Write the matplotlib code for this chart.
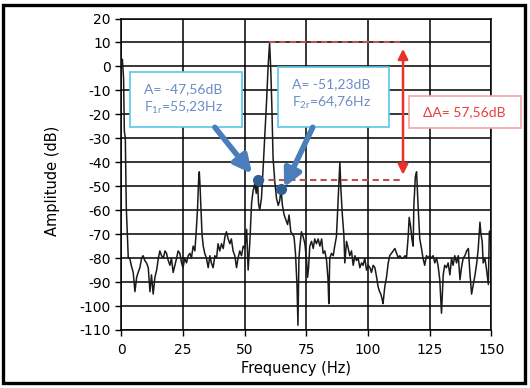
import numpy as np
import matplotlib
matplotlib.use("Agg")
import matplotlib.pyplot as plt
from matplotlib.patches import Rectangle

plt.rcParams['font.family'] = ['DejaVu Sans']
plt.rcParams['axes.unicode_minus'] = False
plt.rcParams['mathtext.fontset'] = 'custom'
plt.rcParams['mathtext.rm'] = 'Lato'

# spectrum (Hz, dB)
freq = [0.0, 0.4, 0.9, 1.2, 1.6, 2.0, 2.4, 2.8, 3.4, 4.0, 4.8, 5.5, 6.2, 6.8, 7.5, 8.2, 8.8, 9.5,
        10.2, 10.9, 11.6, 12.2, 12.9, 13.6, 14.3, 15.0, 15.6, 16.3, 17.0, 17.7, 18.3, 19.0, 19.7,
        20.3, 21.0, 21.7, 22.4, 23.0, 23.7, 24.4, 25.0, 25.7, 26.4, 27.1, 27.8, 28.4, 29.1, 29.8,
        30.4, 30.9, 31.3, 31.6, 31.9, 32.3, 32.7, 33.2, 33.8, 34.5, 35.2, 35.9, 36.5, 37.2, 37.9,
        38.6, 39.2, 39.9, 40.6, 41.3, 42.0, 42.6, 43.3, 44.0, 44.6, 45.3, 46.0, 46.7, 47.3, 48.0,
        48.7, 49.4, 50.1, 50.8, 51.4, 52.1, 52.8, 53.4, 54.1, 54.7, 55.23, 55.6, 56.1, 56.8, 57.5,
        58.2, 58.9, 59.5, 60.1, 60.6, 61.0, 61.5, 62.2, 62.9, 63.6, 64.2, 64.76, 65.3, 66.0, 66.7,
        67.4, 68.0, 68.7, 69.3, 70.0, 70.6, 71.2, 71.6, 72.0, 72.4, 73.0, 73.7, 74.4, 75.1, 75.5,
        75.9, 76.4, 77.1, 77.8, 78.4, 79.1, 79.8, 80.5, 81.2, 81.8, 82.5, 83.2, 83.8, 84.1, 84.5,
        85.2, 85.9, 86.5, 87.2, 87.6, 88.1, 88.6, 89.0, 89.6, 90.2, 90.6, 91.3, 92.0, 92.6, 93.3,
        94.0, 94.7, 95.3, 96.0, 96.7, 97.4, 98.0, 98.7, 99.4, 100.1, 100.8, 101.4, 102.1, 102.8,
        103.5, 104.1, 104.7, 105.2, 105.7, 106.1, 106.5, 106.8, 107.5, 108.2, 108.8, 109.5, 110.2,
        110.9, 111.6, 112.3, 112.9, 113.6, 114.3, 115.0, 115.6, 116.3, 116.7, 117.3, 117.8, 118.3,
        118.6, 119.2, 119.7, 120.3, 121.0, 121.7, 122.3, 123.0, 123.7, 124.4, 125.0, 125.7, 126.4,
        127.1, 127.8, 128.4, 129.1, 129.8, 130.5, 131.1, 131.8, 132.5, 133.2, 133.9, 134.5, 135.2,
        135.9, 136.6, 137.3, 137.9, 138.6, 139.3, 140.0, 140.7, 141.3, 142.0, 142.7, 143.4, 144.1,
        144.7, 145.4, 145.8, 146.3, 146.7, 147.4, 148.1, 148.8, 149.2, 150.0]
amp = [0, 3, -5, -27, -30, -59, -69, -80, -80, -83, -86, -94, -88, -86, -84, -80, -79, -81,
       -82, -84, -94, -87, -95, -88, -85, -80, -77, -79, -80, -77, -78, -81, -83,
       -80, -86, -83, -80, -77, -78, -82, -84, -80, -82, -79, -78, -80, -75, -77,
       -68, -59, -48, -44, -50, -60, -70, -75, -78, -80, -84, -79, -82, -84, -79,
       -80, -74, -77, -74, -76, -71, -69, -72, -74, -72, -77, -79, -84, -80, -77,
       -79, -75, -76, -68, -85, -73, -57, -52, -49, -53, -47.56, -57, -60, -55, -42,
       -28, -14, 0, 10, -2, -16, -38, -48, -55, -58, -56, -51.23, -58, -62, -64,
       -66, -62, -69, -70, -71, -78, -91, -108, -80, -75, -69, -71, -74, -81, -88,
       -84, -75, -73, -76, -72, -74, -72, -75, -72, -78, -77, -81, -89, -99, -80,
       -78, -79, -75, -71, -62, -50, -40, -51, -62, -70, -82, -73, -76, -79, -77,
       -83, -79, -81, -80, -84, -82, -83, -80, -85, -83, -84, -86, -83, -84,
       -88, -92, -94, -95, -97, -99, -95, -92, -88, -82, -79, -78, -77,
       -76, -78, -80, -79, -80, -80, -79, -80, -71, -63, -67, -72, -75,
       -58, -46, -44, -58, -72, -76, -80, -83, -79, -80, -79, -80, -79,
       -82, -80, -83, -89, -103, -87, -83, -84, -82, -87, -80, -83, -79,
       -82, -79, -89, -84, -80, -79, -77, -76, -86, -95, -91, -87, -82,
       -76, -65, -70, -73, -82, -80, -85, -91, -69, -68]

x_ticks = [0, 25, 50, 75, 100, 125, 150]
y_ticks = list(range(-110, 21, 10))

f1, a1 = 55.23, -47.56
f2, a2 = 64.76, -51.23
peak = 10.0
txt1 = ["A= -47,56dB", r"F$_\mathrm{1r}$=55,23Hz"]
txt2 = ["A= -51,23dB", r"F$_\mathrm{2r}$=64,76Hz"]
txt3 = "ΔA= 57,56dB"

fig = plt.figure(figsize=(5.3, 3.88), dpi=100)
ax = fig.add_axes([0.229, 0.1495, 0.698, 0.8028])

ax.plot(freq, amp, color="#1a1a1a", lw=1.1, zorder=3)
ax.set_xlim(0, 150)
ax.set_ylim(-110, 20)
ax.set_xticks(x_ticks)
ax.set_yticks(y_ticks)
ax.grid(True, color="black", lw=1.1)
for s in ax.spines.values():
    s.set_color("black")
    s.set_linewidth(1.1)
ax.tick_params(labelsize=10, length=4.5, width=1, pad=3)
ax.tick_params(axis="x", pad=5)
ax.set_xlabel("Frequency (Hz)", fontsize=10.5)
ax.set_ylabel("Amplitude (dB)", fontsize=10.5)
ax.xaxis.set_label_coords(0.473, -0.10)
ax.yaxis.set_label_coords(-0.165, 0.48)

# red level lines and delta arrow
red_dash = "#c0504d"
ax.plot([60.0, 113.6], [peak, peak], ls="--", color=red_dash, lw=1.5, dashes=(3, 2), zorder=4)
ax.plot([f1, 113.6], [a1, a1], ls="--", color=red_dash, lw=1.5, dashes=(3, 2), zorder=4)
ax.annotate("", xy=(114.2, peak - 1.5), xytext=(114.2, a1 + 1.2),
            arrowprops=dict(arrowstyle="<|-|>", color="#e8332a", lw=1.8, mutation_scale=15),
            zorder=5)

# markers
ax.plot([f1, f2], [a1, a2], "o", color="#2f5f95", ms=7, zorder=6)

# callout boxes
cyan = "#5bc6e6"
blue_txt = "#6a8cc6"
ax.add_patch(Rectangle((3.4, -25.4), 45.4, 23.1, fc="white", ec=cyan, lw=1.2, zorder=7, clip_on=False))
ax.add_patch(Rectangle((63.4, -25.4), 45.0, 25.2, fc="white", ec=cyan, lw=1.2, zorder=7, clip_on=False))
ax.add_patch(Rectangle((116.5, -25.9), 45.4, 13.5, fc="white", ec="#f2a5a5", lw=1.2, zorder=7, clip_on=False))

ax.text(9.1, -9.5, txt1[0], fontsize=10, family="Lato", color=blue_txt, va="center", zorder=8)
ax.text(9.1, -17.4, txt1[1], fontsize=10, family="Lato", color=blue_txt, va="center", zorder=8)
ax.text(69.1, -7.3, txt2[0], fontsize=10, family="Lato", color=blue_txt, va="center", zorder=8)
ax.text(69.1, -15.3, txt2[1], fontsize=10, family="Lato", color=blue_txt, va="center", zorder=8)
ax.text(139.2, -19.1, txt3, fontsize=10, family="Lato", color="#e8403a", va="center", ha="center",
        zorder=8, clip_on=False)

# blue arrows
arrow_blue = "#4a7ebb"
ax.annotate("", xy=(53.0, -44.8), xytext=(37.9, -25.4),
            arrowprops=dict(arrowstyle="-|>", color=arrow_blue, lw=4, mutation_scale=26, shrinkA=0, shrinkB=0),
            zorder=9)
ax.annotate("", xy=(66.0, -50.5), xytext=(77.6, -25.4),
            arrowprops=dict(arrowstyle="-|>", color=arrow_blue, lw=4, mutation_scale=26, shrinkA=0, shrinkB=0),
            zorder=9)

# outer frame of the screenshot
fig.add_artist(Rectangle((3 / 530, 5 / 388), 522 / 530, 378 / 388, transform=fig.transFigure,
                         fill=False, ec="black", lw=2.4))

fig.savefig("out.png", dpi=100)
